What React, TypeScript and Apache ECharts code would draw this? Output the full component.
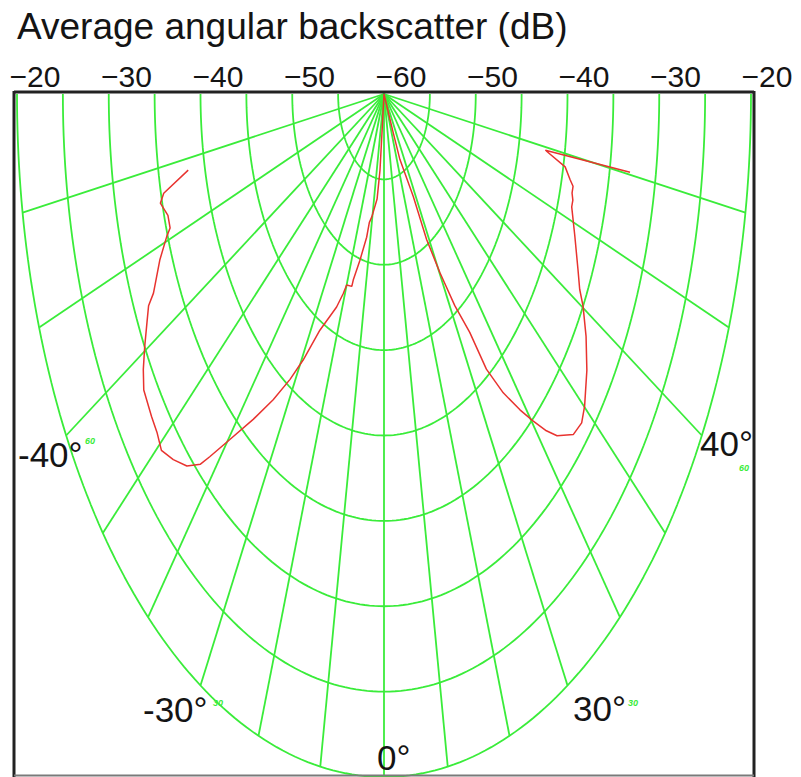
import React, { useEffect, useRef } from "react";
import * as echarts from "echarts";

// Radial scale of the polar grid (dB); the pole sits at the minimum level.
const RADIUS_MIN_DB = -60;
const RADIUS_MAX_DB = -20;

// Concentric level rings (dB) and angular spokes (degrees from nadir).
const RING_DB = [-55, -50, -45, -40, -35, -30, -25, -20];
const SPOKE_DEG = [-80, -70, -60, -50, -40, -30, -20, -10, 0, 10, 20, 30, 40, 50, 60, 70, 80];

// Top scale: offset from the pole (dB) and the level printed there.
const TOP_TICK_OFFSETS = [-40, -30, -20, -10, 0, 10, 20, 30, 40];
const TOP_TICK_LABELS = ["\u221220", "\u221230", "\u221240", "\u221250", "\u221260", "\u221250", "\u221240", "\u221230", "\u221220"];

// Angle annotations.
const ANGLE_LABELS = ["-40°", "40°", "-30°", "30°", "0°"];
const ANGLE_TICK_TEXT = ["60", "60", "30", "30"];

// Measured average backscatter versus incidence angle.
const CURVE_ANGLE_DEG = [
  -78.2, -76.4, -75.3, -73.2, -71.4, -70.6, -68.3, -65.1, -64.2, -62.6,
  -60.4, -58.4, -56.5, -53.3, -51.3, -49.3, -47.0, -44.6, -42.7, -41.8,
  -39.7, -36.8, -34.0, -31.5, -29.5, -26.8, -22.5, -20.8, -20.0, -17.3,
  -17.1, -15.1, -12.7, -12.0, -10.4, -7.0, -5.6, -5.5,
  0,
  23.8, 24.3, 28.0, 28.6, 30.2, 31.9, 33.8, 34.7, 36.6, 38.7,
  40.3, 41.9, 43.3, 46.0, 48.2, 50.1, 53.8, 57.2, 60.2, 61.8,
  64.1, 68.2, 72.1, 73.2, 74.2, 75.3, 76.1, 77.8, 79.4, 80.3,
];
const CURVE_DB = [
  -38.2, -35.3, -34.8, -35.4, -35.4, -34.9, -33.7, -32.3, -31.5, -30.9,
  -30.0, -29.2, -28.6, -28.4, -28.3, -28.0, -28.6, -29.4, -30.5, -31.5,
  -33.7, -36.2, -38.4, -40.4, -42.1, -44.5, -46.5, -47.5, -48.1, -48.2,
  -48.6, -49.9, -51.4, -52.3, -52.7, -53.8, -55.5, -57.9,
  -60.0,
  -57.7, -55.8, -53.2, -50.3, -47.9, -45.4, -43.2, -40.4, -38.2, -36.3,
  -34.9, -33.5, -32.5, -31.3, -31.1, -31.5, -32.6, -33.8, -35.0, -35.8,
  -36.5, -37.6, -38.5, -38.5, -38.7, -38.7, -39.1, -39.8, -42.1, -32.8,
];

const FONT = "'Liberation Sans', Arial, Helvetica, sans-serif";
const GRID_GREEN = "#3aec3a";
const CURVE_RED = "#e8332f";
const INK = "#141414";

// Polar (angle from nadir, level) to the plane of the cartesian grid.
function toXY(angleDeg: number, db: number): [number, number] {
  const r = Math.max(0, db - RADIUS_MIN_DB);
  const a = (angleDeg * Math.PI) / 180;
  return [r * Math.sin(a), r * Math.cos(a)];
}

function ringPoints(db: number): [number, number][] {
  const pts: [number, number][] = [];
  for (let a = -90; a <= 90; a += 1) pts.push(toXY(a, db));
  return pts;
}

function buildOption() {
  const span = RADIUS_MAX_DB - RADIUS_MIN_DB;
  const gridLine = { color: GRID_GREEN, width: 1.8 };

  const ringSeries = RING_DB.map((db) => ({
    type: "line",
    xAxisIndex: 0,
    yAxisIndex: 0,
    data: ringPoints(db),
    symbol: "none",
    silent: true,
    lineStyle: gridLine,
    z: 1,
  }));

  const spokeSeries = SPOKE_DEG.map((a) => ({
    type: "line",
    xAxisIndex: 0,
    yAxisIndex: 0,
    data: [toXY(a, RADIUS_MIN_DB), toXY(a, RADIUS_MAX_DB)],
    symbol: "none",
    silent: true,
    lineStyle: gridLine,
    z: 1,
  }));

  const curveSeries = {
    type: "line",
    xAxisIndex: 0,
    yAxisIndex: 0,
    data: CURVE_ANGLE_DEG.map((a, i) => toXY(a, CURVE_DB[i])),
    symbol: "none",
    silent: true,
    lineStyle: { color: CURVE_RED, width: 1.5 },
    z: 3,
  };

  const bigText = (text: string, x: number, y: number) => ({
    type: "text",
    x,
    y,
    z: 10,
    style: {
      text,
      fill: INK,
      font: `35px ${FONT}`,
      textAlign: "left",
      textVerticalAlign: "middle",
    },
  });

  const smallGreen = (text: string, x: number, y: number) => ({
    type: "text",
    x,
    y,
    z: 9,
    style: {
      text,
      fill: GRID_GREEN,
      font: `italic bold 9px ${FONT}`,
      textAlign: "left",
      textVerticalAlign: "middle",
    },
  });

  const frame = { stroke: "#222", lineWidth: 3 };

  return {
    animation: false,
    backgroundColor: "#ffffff",
    title: {
      text: "Average angular backscatter (dB)",
      left: 17,
      top: 8,
      padding: 0,
      textStyle: { fontFamily: FONT, fontSize: 37, fontWeight: "normal", color: INK },
    },
    grid: [
      { left: 17, top: 94, width: 734, height: 684 },
      { left: 35, top: 92, width: 732, height: 1 },
    ],
    xAxis: [
      { gridIndex: 0, type: "value", min: -span, max: span, show: false },
      {
        gridIndex: 1,
        type: "value",
        position: "top",
        min: TOP_TICK_OFFSETS[0],
        max: TOP_TICK_OFFSETS[TOP_TICK_OFFSETS.length - 1],
        interval: 10,
        axisLine: { show: false },
        axisTick: { show: false },
        splitLine: { show: false },
        axisLabel: {
          margin: 16,
          verticalAlign: "middle",
          fontFamily: FONT,
          fontSize: 30,
          color: INK,
          showMinLabel: true,
          showMaxLabel: true,
          formatter: (v: number) => TOP_TICK_LABELS[TOP_TICK_OFFSETS.indexOf(v)] ?? "",
        },
      },
    ],
    yAxis: [
      { gridIndex: 0, type: "value", min: 0, max: span, inverse: true, show: false },
      { gridIndex: 1, type: "value", min: 0, max: 1, show: false },
    ],
    series: [...ringSeries, ...spokeSeries, curveSeries],
    graphic: [
      { type: "line", z: 20, shape: { x1: 14, y1: 92, x2: 754, y2: 92 }, style: frame },
      { type: "line", z: 20, shape: { x1: 14, y1: 91, x2: 14, y2: 777 }, style: frame },
      { type: "line", z: 20, shape: { x1: 754, y1: 91, x2: 754, y2: 777 }, style: frame },
      { type: "line", z: 20, shape: { x1: 14, y1: 775.5, x2: 754, y2: 775.5 }, style: { stroke: "#7a7a7a", lineWidth: 2 } },
      smallGreen(ANGLE_TICK_TEXT[0], 85, 441),
      smallGreen(ANGLE_TICK_TEXT[1], 739, 468),
      smallGreen(ANGLE_TICK_TEXT[2], 213, 703),
      smallGreen(ANGLE_TICK_TEXT[3], 628, 703),
      bigText(ANGLE_LABELS[0], 18, 454),
      bigText(ANGLE_LABELS[1], 700, 443),
      bigText(ANGLE_LABELS[2], 143, 709),
      bigText(ANGLE_LABELS[3], 573, 708),
      bigText(ANGLE_LABELS[4], 377, 757),
    ],
  };
}

export default function App() {
  const ref = useRef<HTMLDivElement>(null);
  useEffect(() => {
    if (!ref.current) return;
    const chart = echarts.init(ref.current, null, { renderer: "svg" });
    chart.setOption(buildOption() as any);
    return () => chart.dispose();
  }, []);
  return (
    <div
      ref={ref}
      style={{ position: "fixed", left: 0, top: 0, width: 801, height: 777, background: "#fff" }}
    />
  );
}
